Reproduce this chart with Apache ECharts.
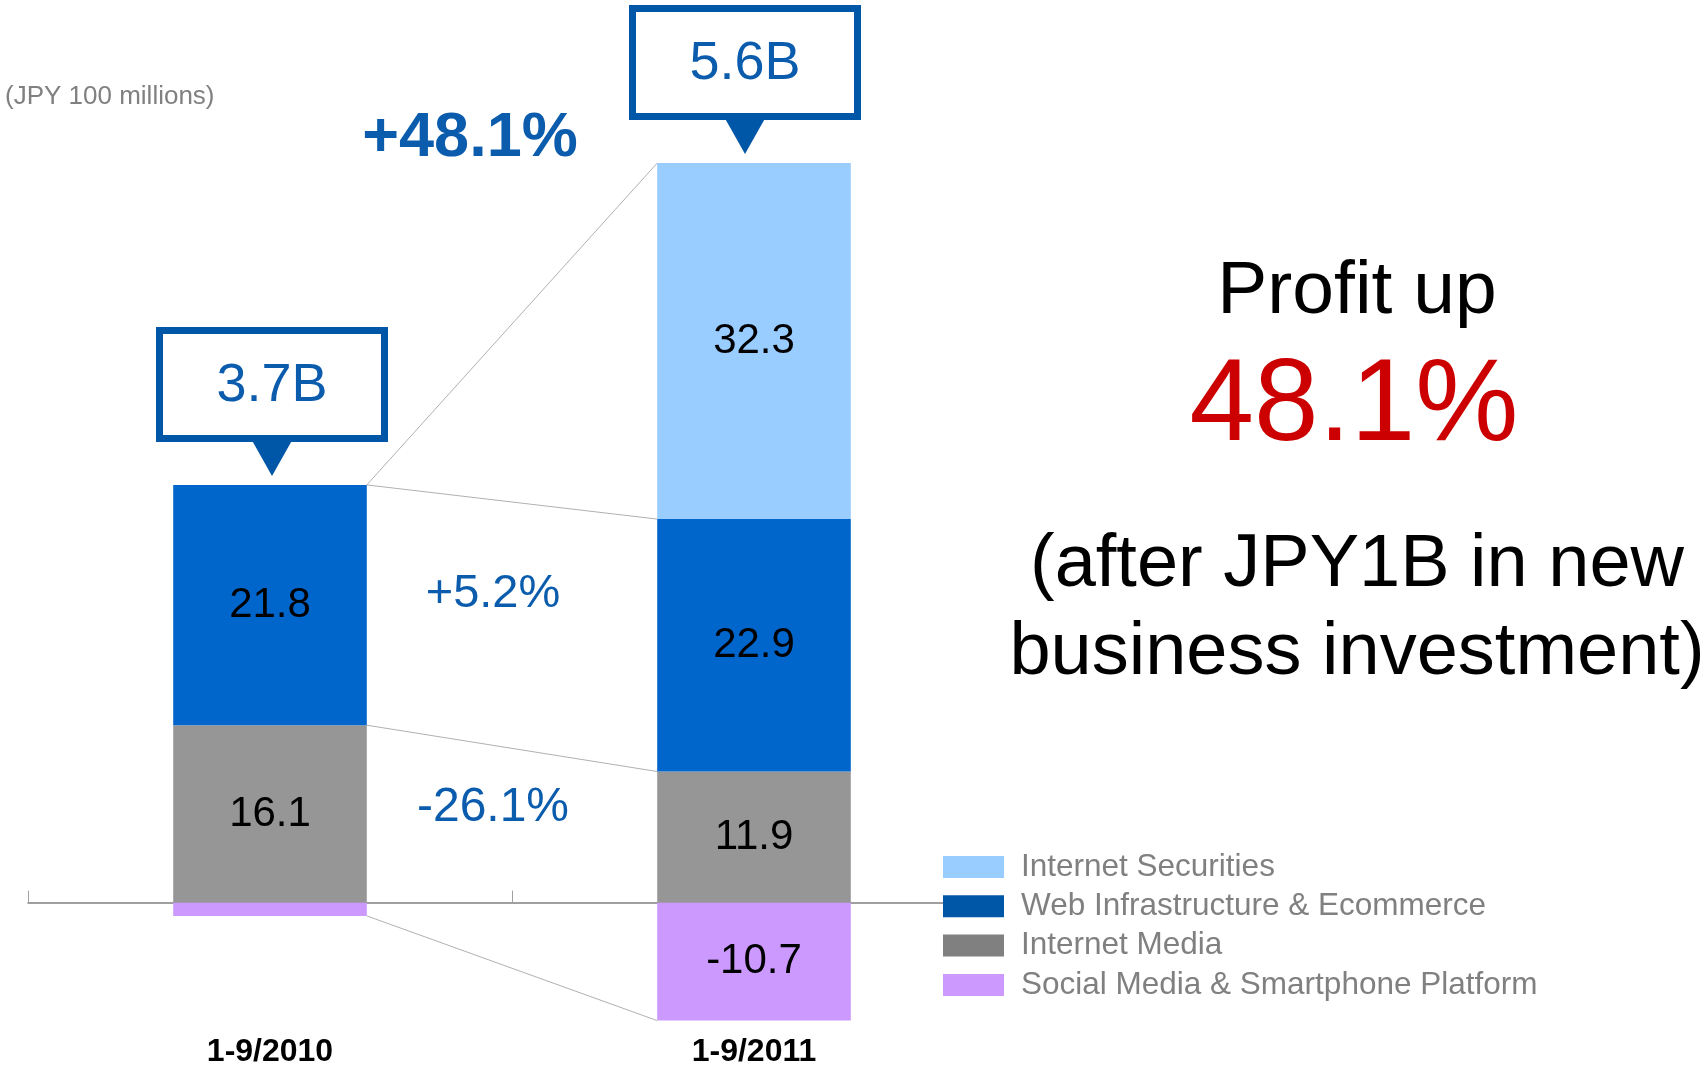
<!DOCTYPE html>
<html lang="en">
<head>
<meta charset="UTF-8">
<title>Profit by segment</title>
<style>
  html, body { margin: 0; padding: 0; background: #fff; }
  #main { width: 1708px; height: 1070px; }
</style>
</head>
<body>
<div id="main"></div>
<script src="https://cdn.jsdelivr.net/npm/echarts@6/dist/echarts.min.js"></script>
<script>
// JPY 100 millions
const periods = ['1-9/2010', '1-9/2011'];
const securities = ['-', 32.3];
const webInfra = [21.8, 22.9];
const media = [16.1, 11.9];
const social = [-1.2, -10.7];
const totals = ['3.7B', '5.6B'];
const segmentNames = ['Internet Securities', 'Web Infrastructure & Ecommerce', 'Internet Media', 'Social Media & Smartphone Platform'];
const changeTotal = '+48.1%';
const changeWeb = '+5.2%';
const changeMedia = '-26.1%';

const FONT = '"Liberation Sans", Arial, Helvetica, sans-serif';
const BLUE_TXT = '#0b5cad';
const BOX_BLUE = '#0057a8';

const chart = echarts.init(document.getElementById('main'));

function barLabel(p) {
    return Math.abs(p.value) < 2 ? '' : p.value.toFixed(1);
}

function seg(name, data, color) {
    return {
        name: name,
        type: 'bar',
        stack: 'total',
        barWidth: '40%',
        data: data,
        itemStyle: { color: color },
        label: {
            show: true,
            position: 'inside',
            color: '#000',
            fontSize: 42,
            fontFamily: FONT,
            formatter: barLabel
        },
        emphasis: { disabled: true }
    };
}

chart.setOption({
    animation: false,
    grid: { left: 28, right: 712, top: 76, bottom: 2, outerBoundsMode: 'none', containLabel: false },
    legend: {
        orient: 'vertical',
        left: 943,
        top: 851,
        padding: 0,
        itemWidth: 61,
        itemHeight: 22,
        itemGap: 7.3,
        icon: 'rect',
        backgroundColor: '#fff',
        selectedMode: false,
        textStyle: { color: '#808080', fontSize: 31.5, fontFamily: FONT, lineHeight: 22, padding: [0, 0, 0, 12] },
        data: [
            { name: segmentNames[0], itemStyle: { color: '#99ccff' } },
            { name: segmentNames[1], itemStyle: { color: '#0057a8' } },
            { name: segmentNames[2], itemStyle: { color: '#808080' } },
            { name: segmentNames[3], itemStyle: { color: '#cc99ff' } }
        ]
    },
    xAxis: {
        type: 'category',
        data: periods,
        axisLine: { lineStyle: { color: '#808080', width: 1.5 } },
        axisTick: { show: true, inside: true, length: 12, lineStyle: { color: '#a0a0a0', width: 1 } },
        axisLabel: { show: false }
    },
    yAxis: {
        type: 'value',
        min: -15,
        max: 75,
        show: false,
        splitLine: { show: false }
    },
    series: [
        seg(segmentNames[2], media, '#969696'),
        seg(segmentNames[1], webInfra, '#0066cc'),
        seg(segmentNames[0], securities, '#99ccff'),
        seg(segmentNames[3], social, '#cc99ff')
    ]
});

// annotations placed from the chart's own scales
function px(i, v) { return chart.convertToPixel({ gridIndex: 0 }, [i, v]); }

const c0 = px(0, 0), c1 = px(1, 0);
const half = (c1[0] - c0[0]) * 0.2;
const r1 = c0[0] + half, l2 = c1[0] - half;

function stackTop(i) {
    return [media[i], webInfra[i], securities[i]].reduce((a, v) => a + (v === '-' ? 0 : v), 0);
}

const links = [
    [stackTop(0), stackTop(1)],
    [stackTop(0), media[1] + webInfra[1]],
    [media[0], media[1]],
    [social[0], social[1]]
];

const graphics = [];
links.forEach(function (l) {
    graphics.push({
        type: 'line',
        shape: { x1: r1, y1: px(0, l[0])[1], x2: l2, y2: px(1, l[1])[1] },
        style: { stroke: '#b0b0b0', lineWidth: 1 },
        z: 1
    });
});

function callout(i, dx) {
    const top = px(i, stackTop(i));
    const cx = top[0] + dx;
    const bottom = top[1] - 46.5;
    const w = 225, h = 108;
    return [
        {
            type: 'rect',
            shape: { x: cx - w / 2, y: bottom - h, width: w, height: h },
            style: { fill: '#fff', stroke: BOX_BLUE, lineWidth: 7 },
            z: 10
        },
        {
            type: 'polygon',
            shape: { points: [[cx - 20, bottom + 2], [cx + 20, bottom + 2], [cx, top[1] - 9]] },
            style: { fill: BOX_BLUE },
            z: 10
        },
        {
            type: 'text',
            x: cx, y: bottom - h / 2 + 2,
            style: { text: totals[i], fill: BLUE_TXT, fontSize: 54, fontFamily: FONT, align: 'center', verticalAlign: 'middle' },
            z: 11
        }
    ];
}
graphics.push.apply(graphics, callout(0, 2));
graphics.push.apply(graphics, callout(1, -9));

function txt(text, x, y, size, color, weight) {
    return {
        type: 'text', x: x, y: y, z: 12,
        style: { text: text, fill: color, fontSize: size, fontWeight: weight || 'normal', fontFamily: FONT, align: 'center', verticalAlign: 'middle' }
    };
}

// category labels under the bars
periods.forEach(function (p, i) {
    graphics.push(txt(p, px(i, 0)[0], 1052, 32, '#000', 'bold'));
});

graphics.push({
    type: 'text', left: 5, top: 84,
    style: { text: '(JPY 100 millions)', fill: '#808080', fontSize: 26, fontFamily: FONT }
});
graphics.push(txt(changeTotal, 470, 139, 63, BLUE_TXT, 'bold'));
graphics.push(txt(changeWeb, 493, 594, 47, BLUE_TXT));
graphics.push(txt(changeMedia, 493, 808, 48, BLUE_TXT));

graphics.push(txt('Profit up', 1357, 292, 75, '#000'));
graphics.push(txt('48.1%', 1354, 408, 116, '#cc0000'));
graphics.push(txt('(after JPY1B in new', 1357, 566, 74, '#000'));
graphics.push(txt('business investment)', 1357, 654, 74, '#000'));

chart.setOption({ graphic: graphics });
</script>
</body>
</html>
